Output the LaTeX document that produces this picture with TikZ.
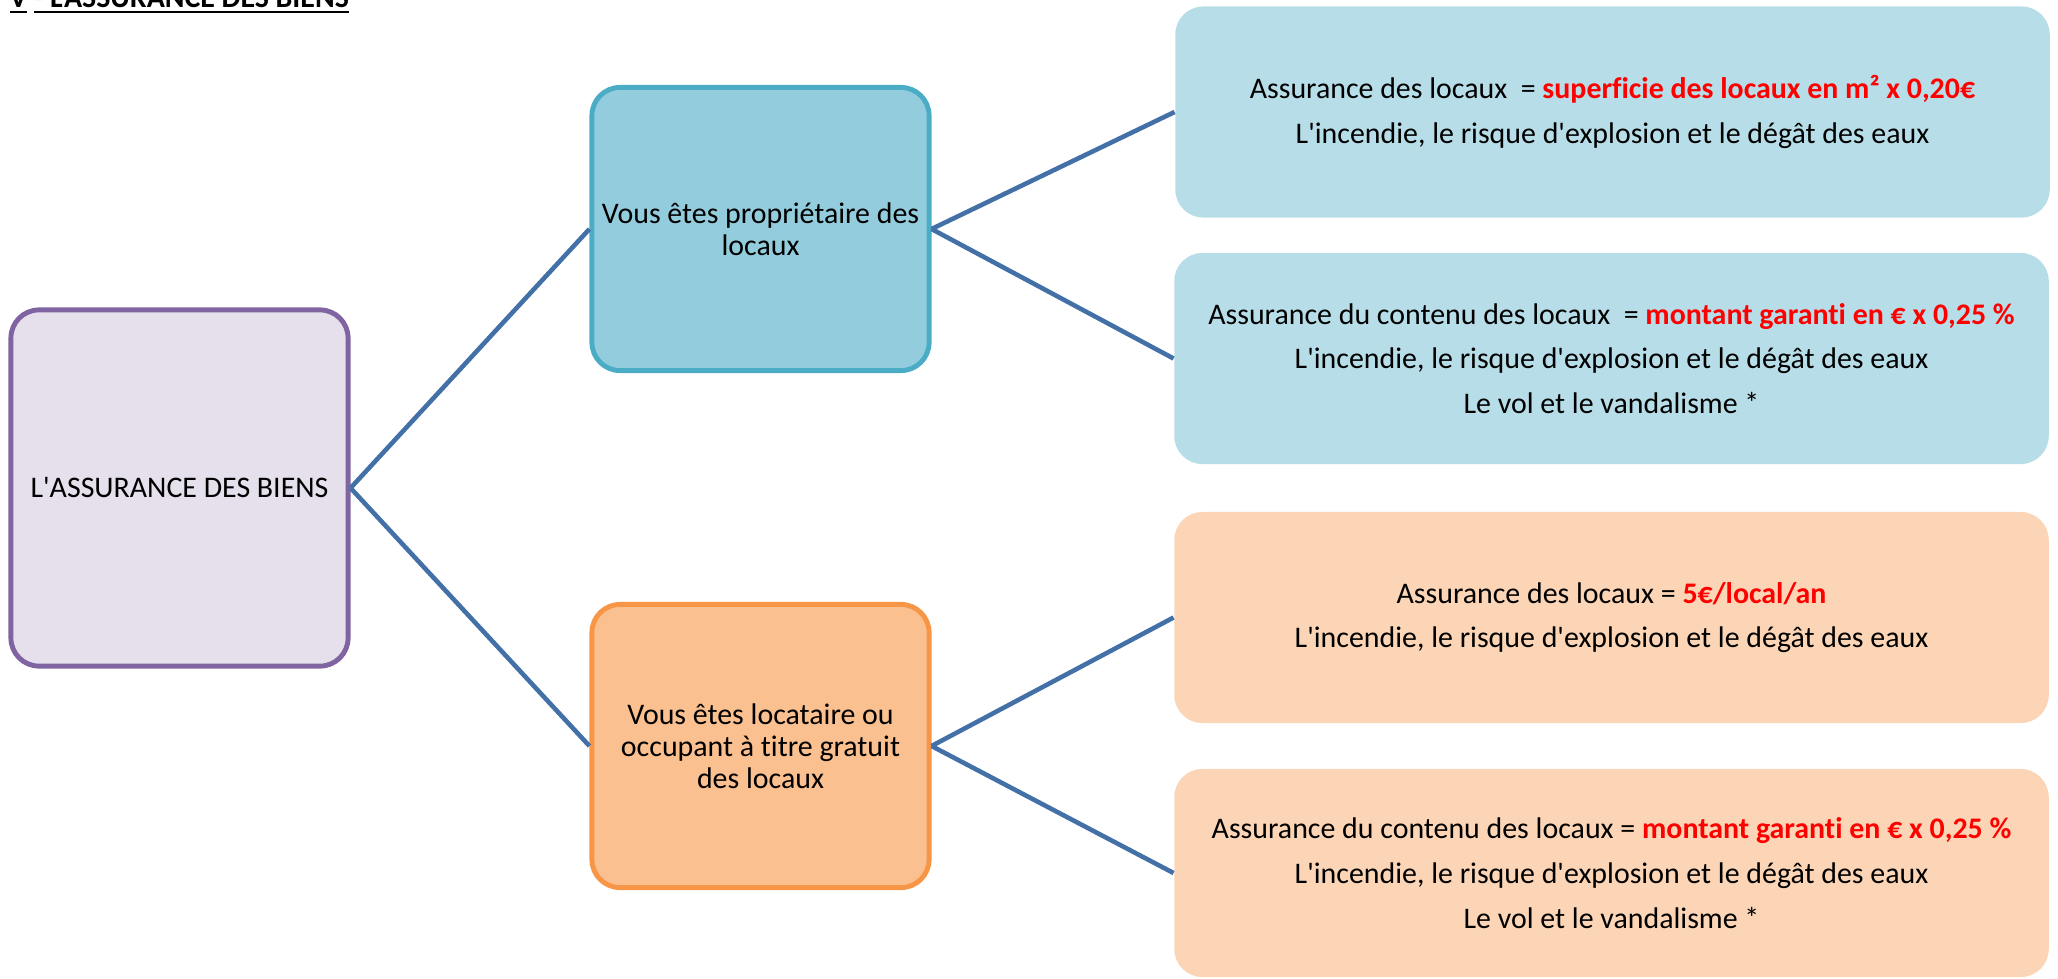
\documentclass[tikz,border=0pt]{standalone}
\usepackage{fontspec}
\setmainfont{Carlito}[Ligatures={TeXOff,CommonOff}]
\usepackage{tikz}
\usetikzlibrary{positioning}
\definecolor{rootfill}{HTML}{E5E0EC}
\definecolor{rootline}{HTML}{8064A2}
\definecolor{ownfill}{HTML}{93CDDD}
\definecolor{ownline}{HTML}{4BACC6}
\definecolor{rentfill}{HTML}{FAC090}
\definecolor{rentline}{HTML}{F79646}
\definecolor{ownlight}{HTML}{B7DEE8}
\definecolor{rentlight}{HTML}{FBD5B5}
\definecolor{linkblue}{HTML}{4470A8}
\definecolor{pricered}{HTML}{FF0000}
\newcommand{\price}[1]{\textcolor{pricered}{\textbf{#1}}}

\begin{document}
\begin{tikzpicture}[x=0.01cm,y=-0.01cm,
	choice/.style={rounded corners=8pt,line width=1.4pt,align=center,inner sep=0pt,
		minimum width=3.37cm,minimum height=2.83cm,font=\fontsize{8.5}{9.1}\selectfont},
	detail/.style={rounded corners=8pt,draw=none,align=center,inner sep=0pt,
		minimum width=8.74cm,minimum height=2.11cm,font=\fontsize{8.5}{12.7}\selectfont},
	link/.style={draw=linkblue,line width=1.3pt}]
		\useasboundingbox (0,0) rectangle (2058,978);
		\node[anchor=base west,inner sep=0pt,font=\fontsize{8.5}{9.1}\selectfont\bfseries] (title) at (9,7)
		{\underline{V} \underline{- L'ASSURANCE DES BIENS}};
		
		\node[choice,draw=rootline,fill=rootfill,minimum height=3.56cm] (root) at (179.5,488) {L'ASSURANCE DES BIENS};
		\node[choice,draw=ownline,fill=ownfill] (own) at (760.5,229) {Vous êtes propriétaire des\\locaux};
		\node[choice,draw=rentline,fill=rentfill] (rent) at (760.5,746) {Vous êtes locataire ou\\occupant à titre gratuit\\des locaux};
		
		\node[detail,fill=ownlight] (own1) at (1612.5,112)
		{Assurance des locaux~ = \price{superficie des locaux en m² x 0,20€}\\L'incendie, le risque d'explosion et le dégât des eaux};
		\node[detail,fill=ownlight] (own2) at (1611.5,358.5)
		{Assurance du contenu des locaux~ = \price{montant garanti en € x 0,25 \%}\\L'incendie, le risque d'explosion et le dégât des eaux\\Le vol et le vandalisme *};
		\node[detail,fill=rentlight] (rent1) at (1611.5,617.5)
		{Assurance des locaux = \price{5€/local/an}\\L'incendie, le risque d'explosion et le dégât des eaux};
		\node[detail,fill=rentlight,minimum height=2.08cm] (rent2) at (1611.5,873)
		{Assurance du contenu des locaux = \price{montant garanti en € x 0,25 \%}\\L'incendie, le risque d'explosion et le dégât des eaux\\Le vol et le vandalisme *};
		
		\foreach \a/\b in {root/own,root/rent,own/own1,own/own2,rent/rent1,rent/rent2}
		\draw[link] (\a.east) -- (\b.west);
	\end{tikzpicture}
\end{document}
